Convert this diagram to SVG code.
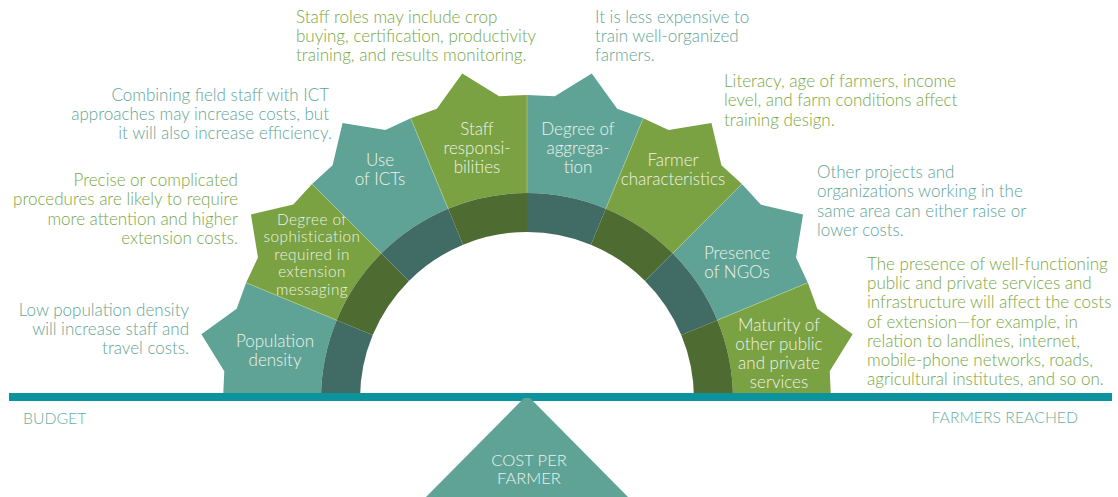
<svg xmlns="http://www.w3.org/2000/svg" width="1118" height="497" viewBox="0 0 1118 497">
<style>
.teal{fill:#5fa397}
.green{fill:#7aa142}
.dteal{fill:#416c65}
.dgreen{fill:#4e6c31}
.sep{stroke:#c9d99d;stroke-width:0.8;stroke-opacity:0.6;fill:none}
text{font-family:Lato,"Open Sans",sans-serif;font-weight:300}
.lbl{font-size:17px;fill:#eef3e8;text-anchor:middle}
.dense{font-size:15.3px;letter-spacing:0.45px}
.ann{font-size:17px}
.at{fill:#5fa597}
.ag{fill:#78a744}
.end{text-anchor:end}
.axis{font-size:15.8px;fill:#6aaea0}
.tri{font-size:16.5px;fill:#e9f1ee;text-anchor:middle}
</style>
<rect width="1118" height="497" fill="#ffffff"/>

<g id="node-population-density">
<path class="teal" d="M321,399 L223,399 L224.28,371.18 L201.38,334.23 L236.67,308.85 L246.14,282.67 L336.68,320.17 A206,206 0 0 0 321,399 Z"/>
<path class="dteal" d="M321,399 A206,206 0 0 1 336.68,320.17 L372.71,335.09 A167,167 0 0 0 360,399 Z"/>
<text class="lbl" x="275" y="347"><tspan x="275">Population</tspan><tspan x="275" dy="19">density</tspan></text>
</g>

<g id="node-sophistication">
<path class="green" d="M336.68,320.17 L246.14,282.67 L257.96,257.45 L250.95,214.55 L293.27,204.61 L312.04,184.04 L381.34,253.34 A206,206 0 0 0 336.68,320.17 Z"/>
<path class="dgreen" d="M336.68,320.17 A206,206 0 0 1 381.34,253.34 L408.91,280.91 A167,167 0 0 0 372.71,335.09 Z"/>
<text class="lbl dense" x="312" y="224.5"><tspan x="312">Degree of</tspan><tspan x="312" dy="17.6">sophistication</tspan><tspan x="312" dy="17.6">required in</tspan><tspan x="312" dy="17.6">extension</tspan><tspan x="312" dy="17.6">messaging</tspan></text>
</g>

<g id="node-use-of-icts">
<path class="teal" d="M381.34,253.34 L312.04,184.04 L332.61,165.27 L342.55,122.95 L385.45,129.96 L410.67,118.14 L448.17,208.68 A206,206 0 0 0 381.34,253.34 Z"/>
<path class="dteal" d="M381.34,253.34 A206,206 0 0 1 448.17,208.68 L463.09,244.71 A167,167 0 0 0 408.91,280.91 Z"/>
<text class="lbl" x="380" y="166"><tspan x="380">Use</tspan><tspan x="380" dy="19">of ICTs</tspan></text>
</g>

<g id="node-staff-responsibilities">
<path class="green" d="M448.17,208.68 L410.67,118.14 L436.85,108.67 L462.23,73.38 L499.18,96.28 L527,95 L527,193 A206,206 0 0 0 448.17,208.68 Z"/>
<path class="dgreen" d="M448.17,208.68 A206,206 0 0 1 527,193 L527,232 A167,167 0 0 0 463.09,244.71 Z"/>
<text class="lbl" x="477" y="135"><tspan x="477">Staff</tspan><tspan x="477" dy="19">responsi-</tspan><tspan x="477" dy="19">bilities</tspan></text>
</g>

<g id="node-degree-of-aggregation">
<path class="teal" d="M527,193 L527,95 L554.82,96.28 L591.77,73.38 L617.15,108.67 L643.33,118.14 L605.83,208.68 A206,206 0 0 0 527,193 Z"/>
<path class="dteal" d="M527,193 A206,206 0 0 1 605.83,208.68 L590.91,244.71 A167,167 0 0 0 527,232 Z"/>
<text class="lbl" x="578" y="135"><tspan x="578">Degree of</tspan><tspan x="578" dy="19">aggrega-</tspan><tspan x="578" dy="19">tion</tspan></text>
</g>

<g id="node-farmer-characteristics">
<path class="green" d="M605.83,208.68 L643.33,118.14 L668.55,129.96 L711.45,122.95 L721.39,165.27 L741.96,184.04 L672.66,253.34 A206,206 0 0 0 605.83,208.68 Z"/>
<path class="dgreen" d="M605.83,208.68 A206,206 0 0 1 672.66,253.34 L645.09,280.91 A167,167 0 0 0 590.91,244.71 Z"/>
<text class="lbl" x="673" y="166"><tspan x="673">Farmer</tspan><tspan x="673" dy="19">characteristics</tspan></text>
</g>

<g id="node-presence-of-ngos">
<path class="teal" d="M672.66,253.34 L741.96,184.04 L760.73,204.61 L803.05,214.55 L796.04,257.45 L807.86,282.67 L717.32,320.17 A206,206 0 0 0 672.66,253.34 Z"/>
<path class="dteal" d="M672.66,253.34 A206,206 0 0 1 717.32,320.17 L681.29,335.09 A167,167 0 0 0 645.09,280.91 Z"/>
<text class="lbl" x="737" y="259"><tspan x="737">Presence</tspan><tspan x="737" dy="19">of NGOs</tspan></text>
</g>

<g id="node-maturity">
<path class="green" d="M717.32,320.17 L807.86,282.67 L817.33,308.85 L852.62,334.23 L829.72,371.18 L831,399 L733,399 A206,206 0 0 0 717.32,320.17 Z"/>
<path class="dgreen" d="M717.32,320.17 A206,206 0 0 1 733,399 L694,399 A167,167 0 0 0 681.29,335.09 Z"/>
<text class="lbl" x="779" y="331"><tspan x="779">Maturity of</tspan><tspan x="779" dy="19">other public</tspan><tspan x="779" dy="19">and private</tspan><tspan x="779" dy="19">services</tspan></text>
</g>

<g id="separators">
<path class="sep" d="M336.68,320.17 L246.14,282.67 M381.34,253.34 L312.04,184.04 M448.17,208.68 L410.67,118.14 M527,193 L527,95 M605.83,208.68 L643.33,118.14 M672.66,253.34 L741.96,184.04 M717.32,320.17 L807.86,282.67"/>
</g>

<g id="beam">
<rect x="9" y="393" width="1103" height="8" fill="#0c939d"/>
</g>

<g id="node-cost-per-farmer">
<path class="teal" d="M524,398 L530,398 L628,497 L426,497 Z"/>
<text class="tri" x="529" y="466"><tspan x="529">COST PER</tspan><tspan x="529" dy="18">FARMER</tspan></text>
</g>

<g id="axis-labels">
<text class="axis" x="23" y="424">BUDGET</text>
<text class="axis end" x="1078" y="423">FARMERS REACHED</text>
</g>

<g id="annotations">
<text class="ann ag" x="296" y="23"><tspan x="296">Staff roles may include crop</tspan><tspan x="296" dy="19.2">buying, certification, productivity</tspan><tspan x="296" dy="19.2">training, and results monitoring.</tspan></text>
<text class="ann at" x="595" y="23"><tspan x="595">It is less expensive to</tspan><tspan x="595" dy="19.2">train well-organized</tspan><tspan x="595" dy="19.2">farmers.</tspan></text>
<text class="ann at end" x="329" y="101"><tspan x="329">Combining field staff with ICT</tspan><tspan x="329" dy="19">approaches may increase costs, but</tspan><tspan x="332" dy="19">it will also increase efficiency.</tspan></text>
<text class="ann ag end" x="238" y="186"><tspan x="238">Precise or complicated</tspan><tspan x="238" dy="19.3">procedures are likely to require</tspan><tspan x="238" dy="19.3">more attention and higher</tspan><tspan x="238" dy="19.3">extension costs.</tspan></text>
<text class="ann at end" x="189" y="316"><tspan x="189">Low population density</tspan><tspan x="189" dy="19">will increase staff and</tspan><tspan x="189" dy="19">travel costs.</tspan></text>
<text class="ann ag" x="724" y="87"><tspan x="724">Literacy, age of farmers, income</tspan><tspan x="724" dy="19.3">level, and farm conditions affect</tspan><tspan x="724" dy="19.3">training design.</tspan></text>
<text class="ann at" x="817" y="178"><tspan x="817">Other projects and</tspan><tspan x="817" dy="19.3">organizations working in the</tspan><tspan x="817" dy="19.3">same area can either raise or</tspan><tspan x="817" dy="19.3">lower costs.</tspan></text>
<text class="ann ag" x="867" y="270"><tspan x="867">The presence of well-functioning</tspan><tspan x="867" dy="19.2">public and private services and</tspan><tspan x="867" dy="19.2">infrastructure will affect the costs</tspan><tspan x="867" dy="19.2">of extension—for example, in</tspan><tspan x="867" dy="19.2">relation to landlines, internet,</tspan><tspan x="867" dy="19.2">mobile-phone networks, roads,</tspan><tspan x="867" dy="19.2">agricultural institutes, and so on.</tspan></text>
</g>
</svg>
